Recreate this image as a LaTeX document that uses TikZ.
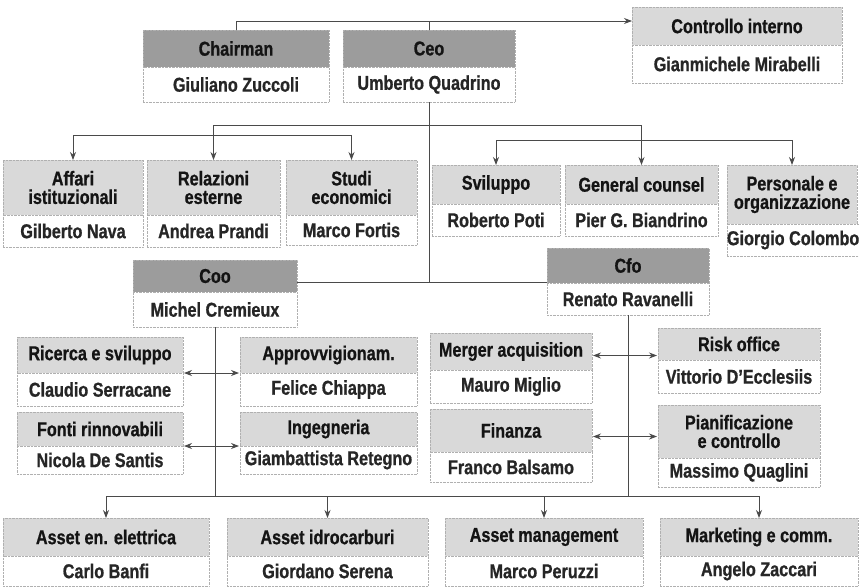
\documentclass[tikz,border=0pt]{standalone}
\usepackage{fontspec}
\setmainfont{Liberation Sans}[FakeStretch=0.81, BoldFeatures={FakeBold=0.8}]
\usetikzlibrary{arrows.meta}
\definecolor{hdark}{HTML}{9C9C9C}
\definecolor{hlight}{HTML}{D9D9D9}
\definecolor{lnc}{HTML}{4A4A4A}
\definecolor{txth}{HTML}{141414}
\definecolor{txtn}{HTML}{262626}
\definecolor{bord}{HTML}{B0B0B0}
\tikzset{
  base/.style={inner sep=0pt, outer sep=0pt, anchor=north west, align=center,
    font=\fontsize{20}{18.5}\selectfont\bfseries},
  hdrdark/.style={base, fill=hdark, draw=bord, densely dotted, text=txth},
  hdrlight/.style={base, fill=hlight, draw=bord, densely dotted, text=txth},
  namebox/.style={base, fill=white, draw=bord, densely dotted, text=txtn},
  conn/.style={draw=lnc, line width=0.8pt},
  arr/.style={conn, -{Stealth[length=8pt,width=6pt]}},
  dbl/.style={conn, {Stealth[length=8pt,width=6pt]}-{Stealth[length=8pt,width=6pt]}, shorten <=1pt, shorten >=1pt},
}
\newcommand\obox[9]{%
  \node[#7, minimum width={(#3-#2)*1pt}, minimum height={(#5-#4)*1pt}] (#1-h) at (#2,#4) {#8};
  \node[namebox, minimum width={(#3-#2)*1pt}, minimum height={(#6-#5)*1pt}] (#1-n) at (#2,#5) {#9};
}
\begin{document}
\begin{tikzpicture}[x=1pt,y=-1pt]
\useasboundingbox[fill=white] (0,0) rectangle (859,587);
% boxes
\obox{chair}{143}{329}{30}{67}{102}{hdrdark}{Chairman}{Giuliano Zuccoli}
\obox{ceo}{343}{515}{30}{67}{102}{hdrdark}{Ceo}{Umberto Quadrino}
\obox{ctrl}{632}{842}{7}{45}{83}{hdrlight}{Controllo interno}{Gianmichele Mirabelli}
\obox{aff}{3}{143}{160}{215}{247}{hdrlight}{Affari\\istituzionali}{Gilberto Nava}
\obox{rel}{147}{280}{160}{215}{247}{hdrlight}{Relazioni\\esterne}{Andrea Prandi}
\obox{stu}{286}{417}{160}{215}{245}{hdrlight}{Studi\\economici}{Marco Fortis}
\obox{svi}{432}{560}{165}{204}{236}{hdrlight}{Sviluppo}{Roberto Poti}
\obox{gen}{565}{718}{165}{204}{236}{hdrlight}{General counsel}{Pier G. Biandrino}
\obox{per}{727}{857}{165}{224}{256}{hdrlight}{Personale e\\organizzazione}{Giorgio Colombo}
\obox{coo}{133}{297}{260}{292}{327}{hdrdark}{Coo}{Michel Cremieux}
\obox{cfo}{547}{709}{248}{283}{315}{hdrdark}{Cfo}{Renato Ravanelli}
\obox{ric}{17}{183}{337}{373}{406}{hdrlight}{Ricerca e sviluppo}{Claudio Serracane}
\obox{app}{240}{417}{337}{373}{406}{hdrlight}{Approvvigionam.}{Felice Chiappa}
\obox{fon}{17}{183}{412}{446}{474}{hdrlight}{Fonti rinnovabili}{Nicola De Santis}
\obox{ing}{240}{417}{412}{446}{474}{hdrlight}{Ingegneria}{Giambattista Retegno}
\obox{mer}{430}{592}{333}{370}{403}{hdrlight}{Merger acquisition}{Mauro Miglio}
\obox{fin}{430}{592}{409}{452}{482}{hdrlight}{Finanza}{Franco Balsamo}
\obox{risk}{658}{820}{328}{360}{393}{hdrlight}{Risk office}{Vittorio D’Ecclesiis}
\obox{pia}{658}{820}{405}{458}{487}{hdrlight}{Pianificazione\\e controllo}{Massimo Quaglini}
\obox{aen}{3}{209}{518}{556}{586}{hdrlight}{Asset en. elettrica}{Carlo Banfi}
\obox{aid}{227}{428}{518}{556}{586}{hdrlight}{Asset idrocarburi}{Giordano Serena}
\obox{ama}{445}{643}{518}{556}{586}{hdrlight}{Asset management}{Marco Peruzzi}
\obox{mkt}{660}{858}{518}{556}{586}{hdrlight}{Marketing e comm.}{Angelo Zaccari}
% levels
\coordinate (lvA) at (0,125);
\coordinate (lvL) at (0,135);
\coordinate (lvR) at (0,140);
\coordinate (lvM) at (0,282);
\coordinate (lvB) at (0,496);
\coordinate (ctin) at ([yshift=5pt]ctrl-h.west);
% controllo interno
\draw[arr] (chair-h.north) |- (ctin);
\draw[conn] (ceo-h.north) -- (ceo-h.north |- ctin);
% ceo trunk
\draw[conn] (ceo-n.south) -- (ceo-n.south |- lvM);
\draw[conn] (rel-h.north |- lvA) -- (gen-h.north |- lvA);
\draw[conn] (rel-h.north |- lvA) -- (rel-h.north |- lvL);
\draw[conn] (aff-h.north |- lvL) -- (stu-h.north |- lvL);
\foreach \n in {aff,rel,stu} \draw[arr] (\n-h.north |- lvL) -- (\n-h.north);
\draw[conn] (gen-h.north |- lvA) -- (gen-h.north |- lvR);
\draw[conn] (svi-h.north |- lvR) -- (per-h.north |- lvR);
\foreach \n in {svi,gen,per} \draw[arr] (\n-h.north |- lvR) -- (\n-h.north);
% coo - cfo
\draw[conn] (coo-h.east |- lvM) -- (cfo-h.west |- lvM);
\draw[conn] (coo-n.south) -- (coo-n.south |- lvB);
\draw[conn] (cfo-n.south) -- (cfo-n.south |- lvB);
\draw[conn] (aen-h.north |- lvB) -- (mkt-h.north |- lvB);
\foreach \n in {aen,aid,ama,mkt} \draw[arr] (\n-h.north |- lvB) -- (\n-h.north);
% double arrows
\draw[dbl] (ric-n.north east) -- (app-n.north west);
\draw[dbl] (fon-n.north east) -- (ing-n.north west);
\coordinate (mA) at ([yshift=-4pt]mer-h.east);
\coordinate (fA) at ([yshift=-6pt]fin-h.east);
\draw[dbl] (mA) -- (mA -| risk-h.west);
\draw[dbl] (fA) -- (fA -| pia-h.west);
\end{tikzpicture}
\end{document}
